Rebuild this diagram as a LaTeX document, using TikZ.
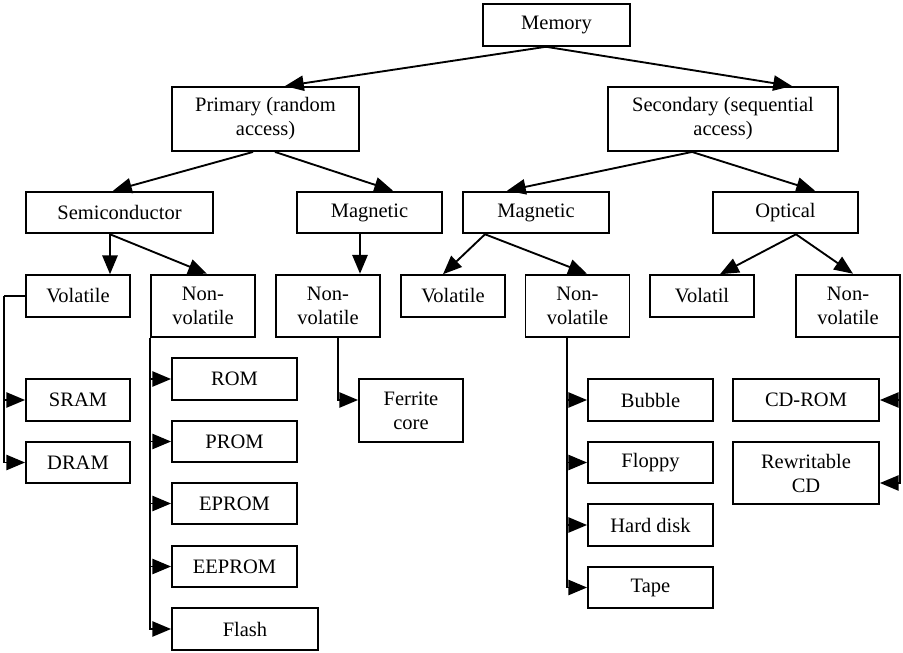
\documentclass[tikz,border=0pt]{standalone}
\usepackage{fontspec}
\setmainfont{Liberation Serif}
\usetikzlibrary{
    arrows.meta,
    calc
}

\begin{document}
\begin{tikzpicture}[x=0.03cm,y=-0.03cm,
    box/.style={draw, line width=1.6pt, align=center, inner sep=0pt,
        minimum height=1.25cm, font=\fontsize{17.5}{20.5}\selectfont},
    tallbox/.style={box, minimum height=1.88cm},
    arr/.style={line width=1.6pt, line join=miter, -{Triangle[length=16pt,width=13pt]}}
]
\useasboundingbox (0,0) rectangle (903,653);

% Top level
\node[box, minimum width=4.41cm] (mem) at (556.5,25) {Memory};
\node[tallbox, minimum height=1.92cm, minimum width=5.61cm] (prim) at (265.5,119) {Primary (random\\access)};
\node[tallbox, minimum height=1.92cm, minimum width=6.9cm] (sec) at (723,119) {Secondary (sequential\\access)};

% Technology
\node[box, minimum width=5.61cm] (semi) at (119.5,212.5) {Semiconductor};
\node[box, minimum width=4.35cm] (pmag) at (369.5,212.5) {Magnetic};
\node[box, minimum width=4.38cm] (smag) at (536,212.5) {Magnetic};
\node[box, minimum width=4.35cm] (opt) at (785.5,212.5) {Optical};

% Volatile / non-volatile
\node[box, minimum width=3.12cm] (svol) at (78,296) {Volatile};
\node[tallbox, minimum width=3.12cm] (snv) at (203,306) {Non-\\volatile};
\node[tallbox, minimum width=3.12cm] (pnv) at (328,306) {Non-\\volatile};
\node[box, minimum width=3.12cm] (mvol) at (453,296) {Volatile};
\node[tallbox, minimum width=3.12cm] (mnv) at (577.5,306) {Non-\\volatile};
\node[box, minimum width=3.12cm] (ovol) at (702,296) {Volatil};
\node[tallbox, minimum width=3.12cm] (onv) at (848,306) {Non-\\volatile};

% Leaves
\node[box, minimum width=3.12cm] (sram) at (78,400) {SRAM};
\node[box, minimum width=3.12cm] (dram) at (78,462.5) {DRAM};
\node[box, minimum width=3.75cm] (rom) at (234.5,379) {ROM};
\node[box, minimum width=3.75cm] (prom) at (234.5,441.5) {PROM};
\node[box, minimum width=3.75cm] (eprom) at (234.5,503.5) {EPROM};
\node[box, minimum width=3.75cm] (eeprom) at (234.5,566.5) {EEPROM};
\node[box, minimum width=4.38cm] (flash) at (245,629) {Flash};
\node[tallbox, minimum width=3.12cm] (ferrite) at (411,410.5) {Ferrite\\core};
\node[box, minimum width=3.75cm] (bubble) at (650.5,400) {Bubble};
\node[box, minimum width=3.75cm] (floppy) at (650.5,462.5) {Floppy};
\node[box, minimum width=3.75cm] (hard) at (650.5,525) {Hard disk};
\node[box, minimum width=3.75cm] (tape) at (650.5,587.5) {Tape};
\node[box, minimum width=4.38cm] (cdrom) at (806,400) {CD-ROM};
\node[tallbox, minimum width=4.38cm] (rwcd) at (806,473) {Rewritable\\CD};

% Tree arrows
\draw[arr] ($(mem.south)+(-10.5,0)$) -- ($(prim.north)+(19.5,0)$);
\draw[arr] ($(mem.south)+(-10.5,0)$) -- ($(sec.north)+(69,0)$);
\draw[arr] ($(prim.south)+(-12.5,0)$) -- ($(semi.north)+(-6.5,0)$);
\draw[arr] ($(prim.south)+(9.5,0)$) -- ($(pmag.north)+(23.5,0)$);
\draw[arr] ($(sec.south)+(-31,0)$) -- ($(smag.north)+(-29,0)$);
\draw[arr] ($(sec.south)+(-31,0)$) -- ($(opt.north)+(29.5,0)$);
\draw[arr] ($(semi.south)+(-9.5,0)$) -- ($(svol.north)+(32,0)$);
\draw[arr] ($(semi.south)+(-9.5,0)$) -- ($(snv.north)+(4,0)$);
\draw[arr] ($(pmag.south)+(-9.5,0)$) -- ($(pnv.north)+(32,0)$);
\draw[arr] ($(smag.south)+(-51,0)$) -- ($(mvol.north)+(-10,0)$);
\draw[arr] ($(smag.south)+(-51,0)$) -- ($(mnv.north)+(9.5,0)$);
\draw[arr] ($(opt.south)+(10.5,0)$) -- ($(ovol.north)+(18,0)$);
\draw[arr] ($(opt.south)+(10.5,0)$) -- ($(onv.north)+(5,0)$);

% Side brackets
\draw[line width=1.6pt] (svol.west) -- ++(-21,0) coordinate (svolleft);
\draw[arr] (svolleft) |- (sram.west);
\draw[arr] (svolleft) |- (dram.west);
\foreach \n in {rom,prom,eprom,eeprom,flash}
    \draw[arr] (snv.south west) |- (\n.west);
\draw[arr] ($(pnv.south)+(10,0)$) |- ($(ferrite.west)+(0,-10.5)$);
\foreach \n in {bubble,floppy,hard,tape}
    \draw[arr] ($(mnv.south)+(-10.5,0)$) |- (\n.west);
\draw[arr] ($(onv.south east)+(-1,0)$) |- (cdrom.east);
\draw[arr] ($(onv.south east)+(-1,0)$) |- ($(rwcd.east)+(0,10)$);

\end{tikzpicture}
\end{document}
